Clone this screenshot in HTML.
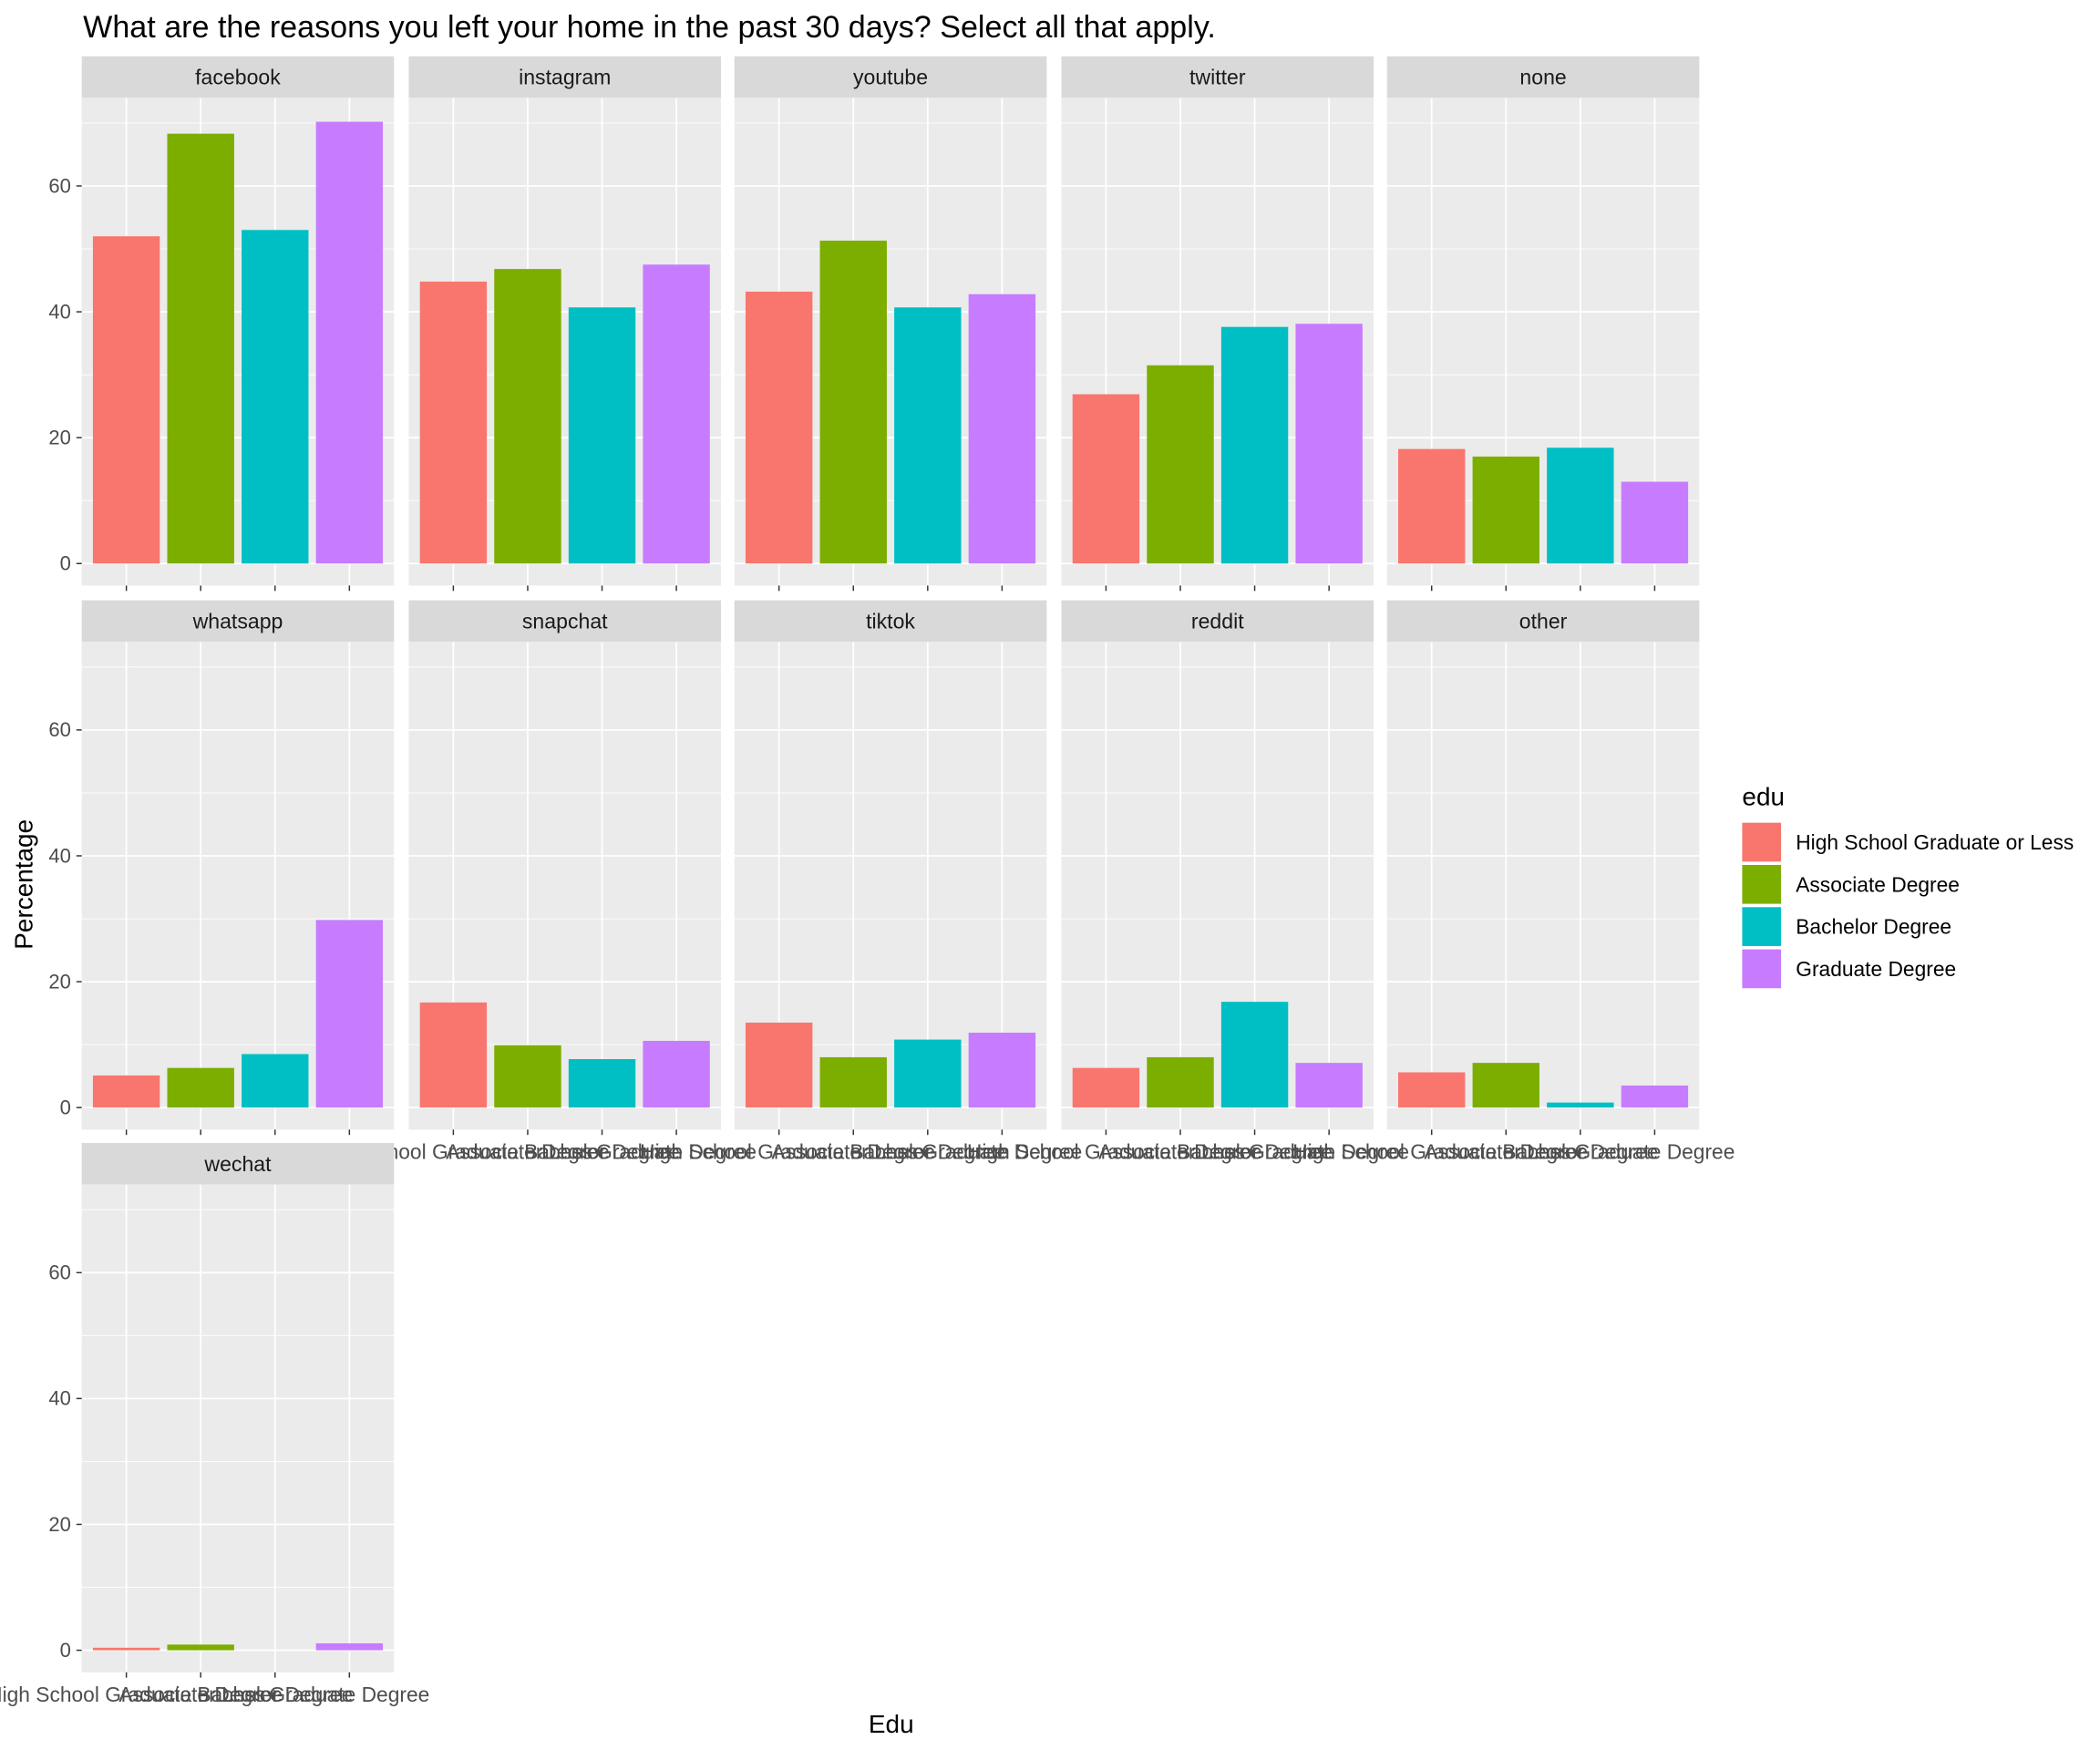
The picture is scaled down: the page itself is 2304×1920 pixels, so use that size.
<!DOCTYPE html>
<html><head><meta charset="utf-8"><style>
html,body{margin:0;padding:0;background:#fff;}
svg{display:block;font-family:"Liberation Sans",Arial,sans-serif;}
</style></head><body>
<svg id="chart" width="2304" height="1920" viewBox="0 0 1567 1306" preserveAspectRatio="none" xmlns="http://www.w3.org/2000/svg">
<rect width="1567" height="1306" fill="#fff"/>
<text x="62" y="28" font-size="23.2" fill="#000">What are the reasons you left your home in the past 30 days? Select all that apply.</text>
<text x="665" y="1293" font-size="19" text-anchor="middle" fill="#000">Edu</text>
<text transform="translate(24,660) rotate(-90)" font-size="19" text-anchor="middle" fill="#000">Percentage</text>
<g id="panels"></g>
<g id="legend"></g>
</svg>
<script>
const platforms = ["facebook","instagram","youtube","twitter","none","whatsapp","snapchat","tiktok","reddit","other","wechat"];
const eduLevels = ["High School Graduate or Less","Associate Degree","Bachelor Degree","Graduate Degree"];
const facebookVals = [52, 68.3, 53, 70.2];
const instagramVals = [44.8, 46.8, 40.7, 47.5];
const youtubeVals = [43.2, 51.3, 40.7, 42.8];
const twitterVals = [26.9, 31.5, 37.6, 38.1];
const noneVals = [18.2, 17, 18.4, 13];
const whatsappVals = [5.1, 6.3, 8.5, 29.8];
const snapchatVals = [16.7, 9.9, 7.7, 10.6];
const tiktokVals = [13.5, 8, 10.8, 11.9];
const redditVals = [6.3, 8, 16.8, 7.1];
const otherVals = [5.6, 7.1, 0.8, 3.5];
const wechatVals = [0.4, 0.9, 0, 1.1];
const yTicks = [0, 20, 40, 60];
const yMinor = [10, 30, 50, 70];
const colors = ["#F8766D","#7CAE00","#00BFC4","#C77CFF"];
const seriesVals = [facebookVals,instagramVals,youtubeVals,twitterVals,noneVals,whatsappVals,snapchatVals,tiktokVals,redditVals,otherVals,wechatVals];

const NS="http://www.w3.org/2000/svg";
function mk(tag,attrs,parent){const e=document.createElementNS(NS,tag);for(const k in attrs)e.setAttribute(k,attrs[k]);parent.appendChild(e);return e;}
const colX=[61,305,548,792,1035], PW=233;
const rowTop=[42,448,853], STRIP=31, PH=364;
const yMinV=-3.5, yMaxV=74.0;
const g=document.getElementById('panels');
platforms.forEach((p,i)=>{
  const c=i%5, r=Math.floor(i/5);
  const x0=colX[c], st=rowTop[r], top=st+STRIP, bot=top+PH;
  const ys=v=>bot-(v-yMinV)/(yMaxV-yMinV)*PH;
  const xs=v=>x0+(v-0.4)/4.2*PW;
  const pg=mk('g',{},g);
  
  
  const strip=mk('rect',{x:x0,y:st,width:PW,height:STRIP,fill:'#D9D9D9'},pg);
  
  
  const st_t=mk('text',{x:x0+PW/2,y:st+21,'font-size':15.7,'text-anchor':'middle',fill:'#1a1a1a'},pg);
  st_t.textContent=p;
  
  
  mk('rect',{x:x0,y:top,width:PW,height:PH,fill:'#EBEBEB'},pg);
  yMinor.forEach(v=>mk('line',{x1:x0,x2:x0+PW,y1:ys(v),y2:ys(v),stroke:'#fff','stroke-width':0.6},pg));
  yTicks.forEach(v=>mk('line',{x1:x0,x2:x0+PW,y1:ys(v),y2:ys(v),stroke:'#fff','stroke-width':1.2},pg));
  eduLevels.forEach((e,k)=>mk('line',{x1:xs(k+1),x2:xs(k+1),y1:top,y2:bot,stroke:'#fff','stroke-width':1.2},pg));
  seriesVals[i].forEach((v,k)=>{
    const b=mk('rect',{x:xs(k+1-0.45),y:ys(v),width:xs(0.9)-xs(0),height:Math.max(0,ys(0)-ys(v)),fill:colors[k]},pg);
    
    
  });
  if(c===0){
    yTicks.forEach(v=>{
      mk('line',{x1:x0-4,x2:x0,y1:ys(v),y2:ys(v),stroke:'#333','stroke-width':1},pg);
      const t=mk('text',{x:x0-8,y:ys(v)+5,'font-size':15,'text-anchor':'end',fill:'#4d4d4d'},pg);
      t.textContent=v;
      
      
    });
  }
  const bottomPanel = (r===1 && c>=1) || r===2;
  eduLevels.forEach((e,k)=>{
    mk('line',{x1:xs(k+1),x2:xs(k+1),y1:bot,y2:bot+4,stroke:'#333','stroke-width':1},pg);
    if(bottomPanel){
      const t=mk('text',{x:xs(k+1),y:bot+22,'font-size':15.5,'text-anchor':'middle',fill:'#4d4d4d'},pg);
      t.textContent=e;
      
      
    }
  });
});
const lg=document.getElementById('legend');
const lt=mk('text',{x:1300,y:601,'font-size':19,fill:'#000'},lg);
lt.textContent='edu';


eduLevels.forEach((e,k)=>{
  const y=614+k*31.5;
  const kr=mk('rect',{x:1300,y:y,width:29,height:29,fill:colors[k]},lg);
  
  
  const t=mk('text',{x:1340,y:y+20,'font-size':15.5,fill:'#000'},lg);
  t.textContent=e;
  
  
});
</script>
</body></html>
